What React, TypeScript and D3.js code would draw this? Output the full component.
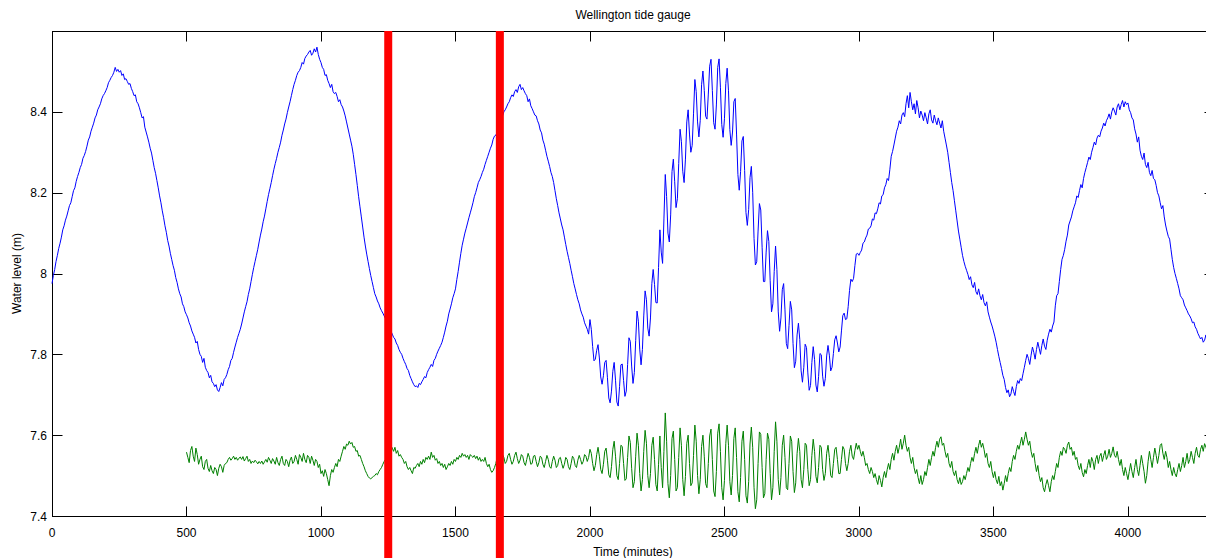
import React from "react";
import * as d3 from "d3";

// ---- data ----
const title = "Wellington tide gauge";
const xLabel = "Time (minutes)";
const yLabel = "Water level (m)";
const xTicks = [0, 500, 1000, 1500, 2000, 2500, 3000, 3500, 4000];
const yTicks = [7.4, 7.6, 7.8, 8.0, 8.2, 8.4];
const yTickLabels = ["7.4", "7.6", "7.8", "8", "8.2", "8.4"];
const xDomain = [0, 4320];
const yDomain = [7.4, 8.6];
const markerTimes = [1250, 1665];

const levelStart = 0;
const levelStep = 5;
const waterLevel = [
  7.975, 7.995, 8.010, 8.030, 8.045, 8.062, 8.075, 8.090, 8.108, 8.118, 8.132, 8.142, 8.155, 8.168, 8.175, 8.190, 8.205, 8.212, 8.228, 8.240,
  8.250, 8.262, 8.270, 8.285, 8.292, 8.302, 8.315, 8.330, 8.338, 8.352, 8.362, 8.372, 8.385, 8.392, 8.405, 8.412, 8.420, 8.432, 8.440, 8.445,
  8.452, 8.460, 8.472, 8.478, 8.485, 8.490, 8.498, 8.510, 8.500, 8.505, 8.498, 8.502, 8.490, 8.494, 8.480, 8.482, 8.475, 8.468, 8.470, 8.458,
  8.450, 8.440, 8.442, 8.425, 8.420, 8.410, 8.398, 8.385, 8.388, 8.362, 8.350, 8.338, 8.325, 8.310, 8.298, 8.280, 8.262, 8.248, 8.230, 8.212,
  8.192, 8.175, 8.155, 8.138, 8.118, 8.102, 8.082, 8.068, 8.050, 8.035, 8.020, 8.008, 7.990, 7.978, 7.962, 7.950, 7.942, 7.925, 7.918, 7.905,
  7.898, 7.890, 7.878, 7.870, 7.858, 7.850, 7.842, 7.828, 7.832, 7.812, 7.800, 7.795, 7.780, 7.790, 7.768, 7.760, 7.755, 7.742, 7.748, 7.732,
  7.728, 7.720, 7.725, 7.712, 7.708, 7.718, 7.730, 7.722, 7.738, 7.742, 7.750, 7.762, 7.770, 7.785, 7.790, 7.805, 7.818, 7.830, 7.842, 7.852,
  7.862, 7.875, 7.890, 7.905, 7.918, 7.930, 7.948, 7.962, 7.980, 7.998, 8.015, 8.030, 8.045, 8.060, 8.078, 8.095, 8.110, 8.128, 8.142, 8.160,
  8.178, 8.195, 8.210, 8.225, 8.242, 8.258, 8.272, 8.285, 8.300, 8.312, 8.325, 8.342, 8.355, 8.370, 8.382, 8.398, 8.412, 8.425, 8.440, 8.455,
  8.468, 8.478, 8.490, 8.498, 8.502, 8.510, 8.522, 8.518, 8.532, 8.538, 8.542, 8.548, 8.552, 8.540, 8.545, 8.556, 8.548, 8.560, 8.542, 8.530,
  8.522, 8.510, 8.505, 8.490, 8.492, 8.478, 8.470, 8.460, 8.468, 8.450, 8.445, 8.448, 8.438, 8.425, 8.430, 8.418, 8.412, 8.402, 8.390, 8.375,
  8.360, 8.345, 8.330, 8.315, 8.295, 8.270, 8.245, 8.218, 8.190, 8.165, 8.140, 8.115, 8.090, 8.068, 8.048, 8.030, 8.012, 7.995, 7.980, 7.965,
  7.950, 7.942, 7.932, 7.925, 7.915, 7.908, 7.902, 7.895, 7.888, 7.880, 7.875, 7.862, 7.858, 7.850, 7.842, 7.838, 7.828, 7.822, 7.812, 7.805,
  7.800, 7.790, 7.782, 7.775, 7.765, 7.760, 7.748, 7.740, 7.732, 7.725, 7.720, 7.722, 7.718, 7.728, 7.725, 7.732, 7.738, 7.745, 7.742, 7.755,
  7.762, 7.768, 7.775, 7.770, 7.785, 7.790, 7.800, 7.808, 7.815, 7.822, 7.830, 7.842, 7.855, 7.870, 7.882, 7.900, 7.912, 7.925, 7.940, 7.950,
  7.962, 7.985, 8.005, 8.028, 8.050, 8.070, 8.085, 8.100, 8.112, 8.125, 8.138, 8.150, 8.162, 8.175, 8.190, 8.200, 8.212, 8.225, 8.232, 8.240,
  8.250, 8.258, 8.270, 8.280, 8.290, 8.300, 8.310, 8.318, 8.332, 8.340, 8.342, 8.350, 8.362, 8.370, 8.378, 8.390, 8.400, 8.405, 8.412, 8.420,
  8.425, 8.435, 8.442, 8.438, 8.450, 8.455, 8.448, 8.462, 8.468, 8.455, 8.460, 8.452, 8.445, 8.440, 8.425, 8.432, 8.415, 8.408, 8.400, 8.392,
  8.390, 8.378, 8.370, 8.355, 8.348, 8.330, 8.320, 8.305, 8.290, 8.278, 8.265, 8.250, 8.240, 8.225, 8.205, 8.185, 8.168, 8.150, 8.135, 8.120,
  8.108, 8.090, 8.072, 8.055, 8.040, 8.025, 8.008, 7.992, 7.975, 7.962, 7.948, 7.935, 7.925, 7.910, 7.900, 7.892, 7.878, 7.870, 7.862, 7.850,
  7.886, 7.862, 7.819, 7.784, 7.788, 7.810, 7.824, 7.791, 7.744, 7.726, 7.747, 7.780, 7.785, 7.742, 7.692, 7.680, 7.709, 7.758, 7.780, 7.736,
  7.682, 7.672, 7.720, 7.774, 7.776, 7.735, 7.696, 7.709, 7.775, 7.841, 7.832, 7.771, 7.728, 7.755, 7.834, 7.907, 7.882, 7.813, 7.774, 7.812,
  7.895, 7.957, 7.935, 7.865, 7.845, 7.890, 7.975, 8.010, 7.973, 7.928, 7.927, 8.015, 8.108, 8.053, 8.025, 8.135, 8.245, 8.190, 8.100, 8.078,
  8.145, 8.252, 8.283, 8.227, 8.163, 8.185, 8.272, 8.357, 8.326, 8.253, 8.225, 8.283, 8.375, 8.405, 8.345, 8.300, 8.317, 8.395, 8.480, 8.450,
  8.375, 8.338, 8.379, 8.467, 8.501, 8.453, 8.389, 8.382, 8.444, 8.513, 8.530, 8.453, 8.373, 8.357, 8.417, 8.510, 8.531, 8.461, 8.369, 8.337,
  8.383, 8.470, 8.508, 8.452, 8.356, 8.317, 8.350, 8.425, 8.433, 8.345, 8.245, 8.206, 8.252, 8.328, 8.339, 8.255, 8.151, 8.119, 8.158, 8.237,
  8.265, 8.201, 8.087, 8.021, 8.029, 8.105, 8.173, 8.157, 8.065, 7.980, 7.980, 8.053, 8.106, 8.079, 7.982, 7.905, 7.925, 8.005, 8.068, 8.010,
  7.905, 7.857, 7.890, 7.960, 7.975, 7.910, 7.827, 7.814, 7.871, 7.931, 7.910, 7.827, 7.767, 7.783, 7.848, 7.877, 7.837, 7.759, 7.731, 7.768,
  7.825, 7.817, 7.754, 7.711, 7.723, 7.780, 7.819, 7.787, 7.724, 7.707, 7.745, 7.802, 7.799, 7.746, 7.721, 7.740, 7.796, 7.822, 7.798, 7.759,
  7.768, 7.802, 7.836, 7.846, 7.828, 7.806, 7.818, 7.858, 7.896, 7.902, 7.886, 7.888, 7.918, 7.958, 7.986, 7.980, 7.988, 8.020, 8.048, 8.050,
  8.045, 8.052, 8.058, 8.075, 8.078, 8.088, 8.095, 8.110, 8.112, 8.118, 8.135, 8.132, 8.150, 8.148, 8.160, 8.175, 8.172, 8.192, 8.195, 8.212,
  8.220, 8.235, 8.230, 8.258, 8.290, 8.302, 8.318, 8.335, 8.352, 8.362, 8.378, 8.370, 8.392, 8.398, 8.388, 8.420, 8.440, 8.410, 8.448, 8.425,
  8.405, 8.420, 8.395, 8.428, 8.410, 8.385, 8.402, 8.392, 8.378, 8.398, 8.385, 8.370, 8.395, 8.405, 8.380, 8.372, 8.392, 8.378, 8.368, 8.385,
  8.372, 8.360, 8.378, 8.352, 8.335, 8.318, 8.300, 8.275, 8.250, 8.225, 8.205, 8.180, 8.155, 8.130, 8.105, 8.085, 8.065, 8.045, 8.030, 8.018,
  8.008, 7.998, 7.985, 7.992, 7.972, 7.965, 7.978, 7.955, 7.948, 7.962, 7.945, 7.935, 7.948, 7.928, 7.920, 7.930, 7.905, 7.892, 7.880, 7.870,
  7.858, 7.845, 7.830, 7.812, 7.795, 7.780, 7.765, 7.748, 7.738, 7.718, 7.705, 7.712, 7.695, 7.702, 7.720, 7.708, 7.698, 7.720, 7.735, 7.728,
  7.740, 7.735, 7.752, 7.768, 7.785, 7.800, 7.790, 7.775, 7.798, 7.818, 7.805, 7.788, 7.812, 7.830, 7.815, 7.800, 7.822, 7.838, 7.820, 7.812,
  7.835, 7.850, 7.862, 7.855, 7.870, 7.880, 7.920, 7.945, 7.950, 7.980, 8.010, 8.035, 8.045, 8.060, 8.080, 8.095, 8.120, 8.130, 8.140, 8.155,
  8.165, 8.175, 8.192, 8.188, 8.205, 8.220, 8.212, 8.235, 8.250, 8.262, 8.275, 8.288, 8.282, 8.300, 8.312, 8.325, 8.318, 8.335, 8.342, 8.338,
  8.352, 8.360, 8.372, 8.365, 8.378, 8.385, 8.395, 8.382, 8.400, 8.410, 8.402, 8.392, 8.412, 8.420, 8.405, 8.418, 8.428, 8.412, 8.425, 8.418,
  8.422, 8.405, 8.398, 8.385, 8.380, 8.358, 8.345, 8.325, 8.338, 8.305, 8.290, 8.282, 8.298, 8.270, 8.262, 8.275, 8.250, 8.242, 8.255, 8.235,
  8.232, 8.218, 8.200, 8.192, 8.175, 8.160, 8.168, 8.140, 8.120, 8.105, 8.092, 8.085, 8.060, 8.035, 8.015, 8.000, 7.988, 7.975, 7.962, 7.945,
  7.940, 7.935, 7.922, 7.915, 7.908, 7.900, 7.895, 7.888, 7.878, 7.880, 7.868, 7.862, 7.852, 7.845, 7.838, 7.842, 7.830, 7.835, 7.848, 7.832,
  7.825, 7.818, 7.822, 7.815, 7.810,
];

const residualStart = 500;
const residualStep = 5;
const residual = [
  7.558, 7.545, 7.532, 7.562, 7.572, 7.548, 7.535, 7.568, 7.552, 7.528, 7.540, 7.548, 7.522, 7.515, 7.535, 7.540, 7.518, 7.510, 7.525, 7.512,
  7.505, 7.520, 7.515, 7.500, 7.518, 7.528, 7.522, 7.508, 7.525, 7.530, 7.532, 7.540, 7.545, 7.538, 7.542, 7.548, 7.540, 7.545, 7.538, 7.543,
  7.546, 7.540, 7.547, 7.536, 7.542, 7.548, 7.535, 7.540, 7.530, 7.536, 7.532, 7.538, 7.534, 7.529, 7.535, 7.530, 7.536, 7.528, 7.534, 7.540,
  7.533, 7.545, 7.538, 7.530, 7.542, 7.536, 7.528, 7.545, 7.532, 7.525, 7.540, 7.548, 7.530, 7.525, 7.540, 7.535, 7.522, 7.538, 7.546, 7.530,
  7.535, 7.550, 7.540, 7.528, 7.552, 7.545, 7.535, 7.555, 7.540, 7.532, 7.550, 7.545, 7.530, 7.548, 7.538, 7.525, 7.540, 7.535, 7.520, 7.528,
  7.505, 7.512, 7.498, 7.515, 7.505, 7.490, 7.475, 7.500, 7.515, 7.508, 7.520, 7.530, 7.522, 7.540, 7.535, 7.548, 7.560, 7.572, 7.565, 7.578,
  7.575, 7.585, 7.578, 7.582, 7.570, 7.572, 7.560, 7.562, 7.548, 7.550, 7.540, 7.530, 7.522, 7.512, 7.505, 7.498, 7.494, 7.492, 7.495, 7.498,
  7.500, 7.505, 7.502, 7.510, 7.515, 7.520, 7.528, 7.535, 7.540, 7.545, 7.552, 7.565, 7.575, 7.568, 7.560, 7.570, 7.555, 7.562, 7.548, 7.552,
  7.545, 7.540, 7.530, 7.535, 7.522, 7.515, 7.520, 7.512, 7.505, 7.520, 7.518, 7.525, 7.530, 7.522, 7.535, 7.528, 7.540, 7.532, 7.545, 7.540,
  7.548, 7.540, 7.558, 7.545, 7.550, 7.538, 7.542, 7.530, 7.535, 7.525, 7.530, 7.520, 7.528, 7.515, 7.522, 7.530, 7.525, 7.535, 7.528, 7.540,
  7.535, 7.545, 7.540, 7.550, 7.545, 7.555, 7.548, 7.552, 7.545, 7.550, 7.540, 7.552, 7.548, 7.545, 7.550, 7.542, 7.548, 7.538, 7.545, 7.535,
  7.540, 7.535, 7.545, 7.530, 7.522, 7.528, 7.515, 7.508, 7.512, 7.520, 7.530, 7.545, 7.538, 7.528, 7.540, 7.552, 7.545, 7.530, 7.535, 7.550,
  7.555, 7.540, 7.528, 7.535, 7.550, 7.558, 7.542, 7.530, 7.538, 7.552, 7.548, 7.532, 7.525, 7.540, 7.555, 7.545, 7.528, 7.530, 7.548, 7.550,
  7.535, 7.522, 7.532, 7.548, 7.545, 7.528, 7.520, 7.535, 7.550, 7.540, 7.522, 7.518, 7.535, 7.548, 7.538, 7.520, 7.525, 7.542, 7.545, 7.530,
  7.518, 7.528, 7.545, 7.540, 7.522, 7.515, 7.530, 7.548, 7.542, 7.525, 7.520, 7.538, 7.550, 7.540, 7.528, 7.535, 7.552, 7.548, 7.535, 7.545,
  7.565, 7.555, 7.530, 7.512, 7.525, 7.552, 7.570, 7.548, 7.515, 7.505, 7.528, 7.560, 7.568, 7.538, 7.502, 7.495, 7.522, 7.565, 7.585, 7.548,
  7.500, 7.490, 7.530, 7.575, 7.572, 7.530, 7.488, 7.492, 7.545, 7.598, 7.582, 7.518, 7.470, 7.485, 7.548, 7.605, 7.575, 7.505, 7.462, 7.490,
  7.560, 7.612, 7.580, 7.500, 7.470, 7.505, 7.575, 7.595, 7.540, 7.478, 7.462, 7.528, 7.598, 7.520, 7.470, 7.560, 7.655, 7.585, 7.480, 7.445,
  7.500, 7.592, 7.610, 7.540, 7.462, 7.470, 7.545, 7.618, 7.575, 7.490, 7.450, 7.498, 7.580, 7.600, 7.530, 7.475, 7.482, 7.550, 7.625, 7.585,
  7.500, 7.455, 7.490, 7.572, 7.600, 7.548, 7.480, 7.470, 7.530, 7.598, 7.615, 7.540, 7.462, 7.448, 7.510, 7.605, 7.628, 7.560, 7.470, 7.440,
  7.488, 7.580, 7.625, 7.575, 7.485, 7.452, 7.500, 7.592, 7.618, 7.545, 7.460, 7.435, 7.495, 7.585, 7.610, 7.540, 7.450, 7.432, 7.485, 7.578,
  7.620, 7.570, 7.470, 7.418, 7.440, 7.530, 7.608, 7.602, 7.520, 7.445, 7.455, 7.540, 7.605, 7.590, 7.505, 7.440, 7.470, 7.560, 7.633, 7.585,
  7.490, 7.452, 7.495, 7.575, 7.600, 7.545, 7.470, 7.465, 7.530, 7.598, 7.585, 7.510, 7.458, 7.482, 7.555, 7.592, 7.560, 7.490, 7.470, 7.515,
  7.580, 7.575, 7.515, 7.475, 7.490, 7.550, 7.590, 7.560, 7.498, 7.482, 7.520, 7.575, 7.570, 7.515, 7.488, 7.505, 7.555, 7.575, 7.545, 7.500,
  7.495, 7.530, 7.565, 7.570, 7.540, 7.505, 7.505, 7.540, 7.572, 7.565, 7.530, 7.512, 7.530, 7.560, 7.575, 7.548, 7.540, 7.562, 7.580, 7.565,
  7.575, 7.560, 7.548, 7.560, 7.545, 7.525, 7.530, 7.515, 7.505, 7.520, 7.510, 7.495, 7.505, 7.490, 7.478, 7.500, 7.488, 7.472, 7.495, 7.510,
  7.495, 7.515, 7.530, 7.515, 7.540, 7.555, 7.538, 7.560, 7.575, 7.555, 7.570, 7.590, 7.565, 7.580, 7.600, 7.575, 7.560, 7.570, 7.545, 7.530,
  7.545, 7.520, 7.505, 7.515, 7.495, 7.480, 7.500, 7.478, 7.490, 7.510, 7.500, 7.520, 7.540, 7.525, 7.545, 7.560, 7.548, 7.570, 7.585, 7.570,
  7.590, 7.596, 7.575, 7.580, 7.560, 7.545, 7.555, 7.530, 7.520, 7.535, 7.510, 7.500, 7.512, 7.490, 7.480, 7.495, 7.478, 7.485, 7.500, 7.490,
  7.505, 7.520, 7.510, 7.530, 7.545, 7.535, 7.555, 7.570, 7.555, 7.575, 7.588, 7.570, 7.580, 7.565, 7.545, 7.555, 7.530, 7.520, 7.535, 7.510,
  7.495, 7.510, 7.490, 7.480, 7.498, 7.475, 7.485, 7.464, 7.480, 7.500, 7.485, 7.505, 7.520, 7.510, 7.535, 7.550, 7.540, 7.560, 7.575, 7.565,
  7.580, 7.595, 7.575, 7.590, 7.608, 7.590, 7.575, 7.585, 7.560, 7.545, 7.555, 7.530, 7.510, 7.525, 7.500, 7.485, 7.495, 7.470, 7.460, 7.478,
  7.490, 7.475, 7.460, 7.485, 7.500, 7.490, 7.510, 7.530, 7.520, 7.545, 7.560, 7.550, 7.570, 7.565, 7.555, 7.575, 7.583, 7.565, 7.570, 7.550,
  7.560, 7.540, 7.545, 7.525, 7.515, 7.530, 7.508, 7.497, 7.515, 7.505, 7.525, 7.540, 7.520, 7.545, 7.535, 7.515, 7.540, 7.550, 7.530, 7.548,
  7.555, 7.535, 7.550, 7.562, 7.540, 7.548, 7.565, 7.545, 7.555, 7.571, 7.550, 7.545, 7.560, 7.540, 7.525, 7.540, 7.515, 7.500, 7.520, 7.505,
  7.490, 7.510, 7.530, 7.510, 7.495, 7.520, 7.540, 7.515, 7.500, 7.525, 7.550, 7.530, 7.510, 7.481, 7.500, 7.535, 7.560, 7.540, 7.520, 7.545,
  7.568, 7.550, 7.530, 7.550, 7.575, 7.579, 7.555, 7.540, 7.560, 7.545, 7.520, 7.535, 7.515, 7.500, 7.520, 7.505, 7.497, 7.515, 7.530, 7.510,
  7.525, 7.545, 7.520, 7.535, 7.555, 7.530, 7.540, 7.560, 7.545, 7.530, 7.555, 7.570, 7.550, 7.545, 7.565, 7.575, 7.560, 7.579, 7.570, 7.560,
  7.565, 7.575, 7.560, 7.570, 7.565,
];

// ---- layout ----
const W = 1206;
const H = 558;
const M = { left: 52, right: 1214, top: 31, bottom: 516 };
const FONT = "'Liberation Sans', Arial, Helvetica, sans-serif";

export default function App() {
  const x = d3.scaleLinear().domain(xDomain).range([M.left, M.right]);
  const y = d3.scaleLinear().domain(yDomain).range([M.bottom, M.top]);

  const lineGen = (start: number, step: number) =>
    d3
      .line<number>()
      .x((_, i) => x(start + i * step))
      .y((d) => y(d));

  const bluePath = lineGen(levelStart, levelStep)(waterLevel) || "";
  const greenPath = lineGen(residualStart, residualStep)(residual) || "";

  const axisColor = "#000";
  const tickLen = 10;

  return (
    <svg
      width={W}
      height={H}
      style={{ position: "absolute", left: 0, top: 0, background: "#fff", overflow: "hidden" }}
      fontFamily={FONT}
    >
      <rect x={0} y={0} width={W} height={H} fill="#fff" />
      <text x={(M.left + M.right) / 2} y={19} textAnchor="middle" fontSize={12} fill="#000">
        {title}
      </text>

      <rect
        x={M.left + 0.5}
        y={M.top + 0.5}
        width={M.right - M.left}
        height={M.bottom - M.top}
        fill="none"
        stroke={axisColor}
        strokeWidth={1}
      />

      {xTicks.map((t) => {
        const px = Math.round(x(t)) + 0.5;
        return (
          <g key={"xt" + t}>
            <line x1={px} x2={px} y1={M.bottom + 0.5} y2={M.bottom + 0.5 - tickLen} stroke={axisColor} />
            <line x1={px} x2={px} y1={M.top + 0.5} y2={M.top + 0.5 + tickLen} stroke={axisColor} />
            <text x={x(t)} y={537} textAnchor="middle" fontSize={12} fill="#000">
              {String(t)}
            </text>
          </g>
        );
      })}

      {yTicks.map((t, i) => {
        const py = Math.round(y(t)) + 0.5;
        return (
          <g key={"yt" + t}>
            <line x1={M.left + 0.5} x2={M.left + 0.5 + tickLen} y1={py} y2={py} stroke={axisColor} />
            <line x1={M.right + 0.5} x2={M.right + 0.5 - tickLen} y1={py} y2={py} stroke={axisColor} />
            <text x={47} y={y(t) + 4.5} textAnchor="end" fontSize={12} fill="#000">
              {yTickLabels[i]}
            </text>
          </g>
        );
      })}

      <text x={(M.left + M.right) / 2} y={556} textAnchor="middle" fontSize={12} fill="#000">
        {xLabel}
      </text>
      <text
        transform={`translate(21, ${(M.top + M.bottom) / 2}) rotate(-90)`}
        textAnchor="middle"
        fontSize={12}
        fill="#000"
      >
        {yLabel}
      </text>

      <path d={bluePath} fill="none" stroke="#0000ff" strokeWidth={1} />
      <path d={greenPath} fill="none" stroke="#008000" strokeWidth={1} />

      {markerTimes.map((t) => (
        <line key={"m" + t} x1={x(t)} x2={x(t)} y1={y(yDomain[1])} y2={H} stroke="#ff0000" strokeWidth={8} />
      ))}
    </svg>
  );
}
